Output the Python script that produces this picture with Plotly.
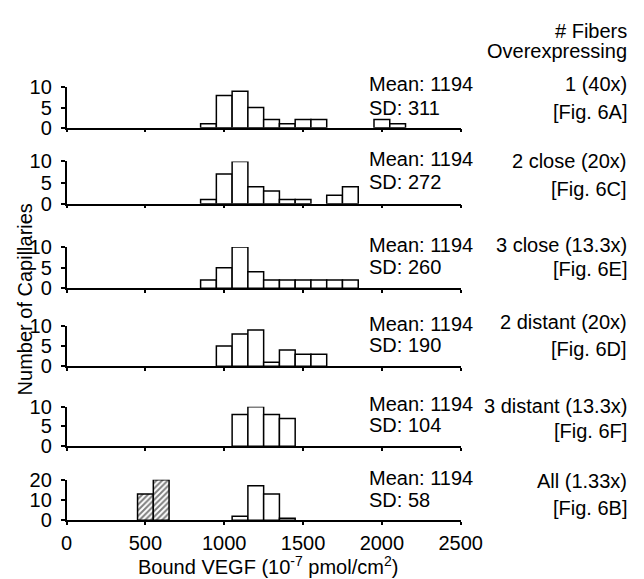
import plotly.graph_objects as go

W, H = 644, 579

bin_centers = [500, 600, 700, 800, 900, 1000, 1100, 1200, 1300, 1400, 1500, 1600, 1700, 1800, 1900, 2000, 2100]

counts_1 = [0, 0, 0, 0, 1, 8, 9, 5, 2, 1, 2, 2, 0, 0, 0, 2, 1]
counts_2 = [0, 0, 0, 0, 1, 7, 10, 4, 3, 1, 1, 0, 2, 4, 0, 0, 0]
counts_3 = [0, 0, 0, 0, 2, 5, 10, 4, 2, 2, 2, 2, 2, 2, 0, 0, 0]
counts_4 = [0, 0, 0, 0, 0, 5, 8, 9, 1, 4, 3, 3, 0, 0, 0, 0, 0]
counts_5 = [0, 0, 0, 0, 0, 0, 8, 10, 8, 7, 0, 0, 0, 0, 0, 0, 0]
counts_6 = [0, 0, 0, 0, 0, 0, 2, 17, 13, 1, 0, 0, 0, 0, 0, 0, 0]
counts_6_hatched = [13, 20, 0, 0, 0, 0, 0, 0, 0, 0, 0, 0, 0, 0, 0, 0, 0]

series = [counts_1, counts_2, counts_3, counts_4, counts_5, counts_6]
sd_values = [311, 272, 260, 190, 104, 58]
mean_value = 1194
labels_1 = ["1 (40x)", "2 close (20x)", "3 close (13.3x)", "2 distant (20x)", "3 distant (13.3x)", "All (1.33x)"]
labels_2 = ["[Fig. 6A]", "[Fig. 6C]", "[Fig. 6E]", "[Fig. 6D]", "[Fig. 6F]", "[Fig. 6B]"]
y_max = [10, 10, 10, 10, 10, 20]
y_ticks = [[0, 5, 10]] * 5 + [[0, 10, 20]]
x_ticks = [0, 500, 1000, 1500, 2000, 2500]

# layout (pixels)
panel_px = [(113, 71), (192, 148), (280, 237), (361, 319), (444, 403), (521, 479)]
x_left, x_right = 55, 467
FONT = "Liberation Sans, Arial, sans-serif"
FS = 20

def py(p):
    return 1 - p / H

def px(p):
    return p / W

fig = go.Figure()
for i, counts in enumerate(series):
    n = i + 1
    xa = "x" if n == 1 else f"x{n}"
    ya = "y" if n == 1 else f"y{n}"
    xs = [c for c, v in zip(bin_centers, counts) if v > 0]
    vs = [v for v in counts if v > 0]
    fig.add_trace(go.Bar(x=xs, y=vs, width=100, xaxis=xa, yaxis=ya,
                         marker=dict(color="white", line=dict(color="black", width=1.5)),
                         showlegend=False))
    if n == 6:
        hx = [c for c, v in zip(bin_centers, counts_6_hatched) if v > 0]
        hv = [v for v in counts_6_hatched if v > 0]
        fig.add_trace(go.Bar(x=hx, y=hv, width=100, xaxis=xa, yaxis=ya,
                             marker=dict(color="white", line=dict(color="black", width=1.5),
                                         pattern=dict(shape="/", fgcolor="black", bgcolor="white",
                                                      size=4, solidity=0.5)),
                             showlegend=False))
    bottom, top = panel_px[i]
    xkey = "xaxis" if n == 1 else f"xaxis{n}"
    ykey = "yaxis" if n == 1 else f"yaxis{n}"
    fig.layout[xkey] = dict(domain=[px(x_left), px(x_right)], range=[0, 2500], anchor=ya,
                            showline=True, linecolor="black", linewidth=1.5,
                            ticks="outside", ticklen=3, tickcolor="black", tickwidth=1.5,
                            tickvals=x_ticks, showticklabels=(n == 6), showgrid=False, zeroline=False,
                            ticklabelstandoff=1,
                            tickfont=dict(family=FONT, size=FS, color="black"))
    fig.layout[ykey] = dict(domain=[py(bottom), py(top)], range=[0, y_max[i]], anchor=xa,
                            showline=True, linecolor="black", linewidth=1.5,
                            ticks="outside", ticklen=4, tickcolor="black", tickwidth=1.5,
                            tickvals=y_ticks[i], showgrid=False, zeroline=False,
                            ticklabelstandoff=5,
                            tickfont=dict(family=FONT, size=FS, color="black"))

ann = []
mean_pos = [(68, 92), (146, 169), (235, 258), (317, 339), (400, 422), (477, 500)]
label_pos = [(68, 97), (148, 177), (235, 260), (315, 343), (402, 428), (480, 508)]
for i in range(6):
    m_y, s_y = mean_pos[i]
    ann.append(dict(x=px(369), y=py(m_y), xref="paper", yref="paper", xanchor="left", yanchor="middle",
                    text=f"Mean: {mean_value}", showarrow=False))
    ann.append(dict(x=px(369), y=py(s_y), xref="paper", yref="paper", xanchor="left", yanchor="middle",
                    text=f"SD: {sd_values[i]}", showarrow=False))
    l1, l2 = label_pos[i]
    ann.append(dict(x=px(643), y=py(l1), xref="paper", yref="paper", xanchor="right", yanchor="middle",
                    text=labels_1[i], showarrow=False))
    ann.append(dict(x=px(643), y=py(l2), xref="paper", yref="paper", xanchor="right", yanchor="middle",
                    text=labels_2[i], showarrow=False))
ann.append(dict(x=px(643), y=py(12), xref="paper", yref="paper", xanchor="right", yanchor="middle",
                text="# Fibers", showarrow=False))
ann.append(dict(x=px(643), y=py(33), xref="paper", yref="paper", xanchor="right", yanchor="middle",
                text="Overexpressing", showarrow=False))
ann.append(dict(x=px(266), y=py(568), xref="paper", yref="paper", xanchor="center", yanchor="middle",
                text="Bound VEGF (10<sup>-7</sup> pmol/cm<sup>2</sup>)", showarrow=False))
ann.append(dict(x=px(11), y=py(292), xref="paper", yref="paper", xanchor="center", yanchor="middle",
                text="Number of Capillaries", textangle=-90, showarrow=False))

fig.update_layout(width=W, height=H, margin=dict(l=0, r=0, t=0, b=0),
                  paper_bgcolor="white", plot_bgcolor="white", barmode="overlay",
                  font=dict(family=FONT, size=FS, color="black"), annotations=ann)

fig.write_html("out.html")
